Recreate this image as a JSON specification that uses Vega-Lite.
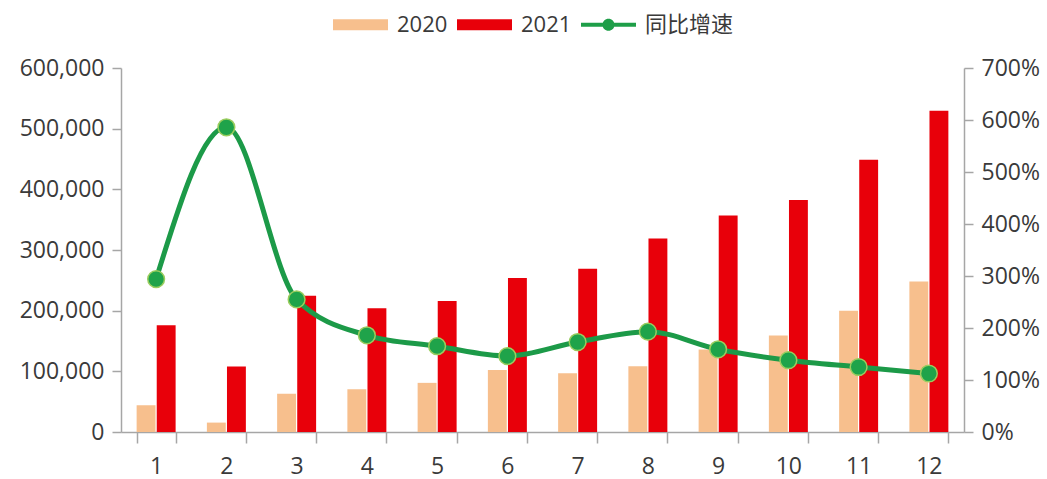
{
  "$schema": "https://vega.github.io/schema/vega-lite/v6.json",
  "width": 843,
  "height": 364,
  "autosize": {"type": "none"},
  "padding": {"left": 121, "top": 68, "right": 83, "bottom": 47},
  "background": "white",
  "config": {
    "font": "Open Sans, Noto Sans CJK SC",
    "view": {"stroke": null},
    "axis": {
      "labelFont": "Open Sans, Noto Sans CJK SC",
      "labelFontSize": 23,
      "labelColor": "#3A3A3A",
      "domainColor": "#A6A6A6",
      "tickColor": "#A6A6A6",
      "domainWidth": 1.5,
      "tickWidth": 1.5,
      "grid": false,
      "title": null
    }
  },
  "datasets": {
    "bars": [
      {"month": 1, "year": "2020", "value": 44000},
      {"month": 2, "year": "2020", "value": 15500},
      {"month": 3, "year": "2020", "value": 63000},
      {"month": 4, "year": "2020", "value": 70500},
      {"month": 5, "year": "2020", "value": 81000},
      {"month": 6, "year": "2020", "value": 102000},
      {"month": 7, "year": "2020", "value": 97000},
      {"month": 8, "year": "2020", "value": 108500},
      {"month": 9, "year": "2020", "value": 136000},
      {"month": 10, "year": "2020", "value": 159000},
      {"month": 11, "year": "2020", "value": 200000},
      {"month": 12, "year": "2020", "value": 248000},
      {"month": 1, "year": "2021", "value": 176000},
      {"month": 2, "year": "2021", "value": 108000},
      {"month": 3, "year": "2021", "value": 224500},
      {"month": 4, "year": "2021", "value": 204000},
      {"month": 5, "year": "2021", "value": 216000},
      {"month": 6, "year": "2021", "value": 254000},
      {"month": 7, "year": "2021", "value": 269000},
      {"month": 8, "year": "2021", "value": 319000},
      {"month": 9, "year": "2021", "value": 357000},
      {"month": 10, "year": "2021", "value": 382500},
      {"month": 11, "year": "2021", "value": 448600},
      {"month": 12, "year": "2021", "value": 529500}
    ],
    "growth": [
      {"month": 1, "rate": 2.94},
      {"month": 2, "rate": 5.86},
      {"month": 3, "rate": 2.55},
      {"month": 4, "rate": 1.86},
      {"month": 5, "rate": 1.65},
      {"month": 6, "rate": 1.46},
      {"month": 7, "rate": 1.73},
      {"month": 8, "rate": 1.93},
      {"month": 9, "rate": 1.59},
      {"month": 10, "rate": 1.38},
      {"month": 11, "rate": 1.25},
      {"month": 12, "rate": 1.125}
    ]
  },
  "layer": [
    {
      "data": {"name": "bars"},
      "mark": {"type": "bar"},
      "encoding": {
        "x": {
          "field": "month",
          "type": "ordinal",
          "scale": {"paddingInner": 0.445, "paddingOuter": 0.2225},
          "axis": {"labelAngle": 0, "tickBand": "extent", "tickSize": 11, "labelPadding": 12}
        },
        "xOffset": {"field": "year", "type": "nominal", "scale": {"paddingInner": 0.06}},
        "y": {
          "field": "value",
          "type": "quantitative",
          "scale": {"domain": [0, 600000], "nice": false},
          "axis": {"orient": "left", "values": [0, 100000, 200000, 300000, 400000, 500000, 600000], "format": ",.0f", "tickSize": 9, "labelPadding": 8}
        },
        "color": {
          "field": "year",
          "type": "nominal",
          "scale": {"domain": ["2020", "2021", "同比增速"], "range": ["#F7BF8D", "#E8000A", "#1E9E48"]},
          "legend": {
            "orient": "none",
            "legendX": 212,
            "legendY": -71,
            "direction": "horizontal",
            "title": null,
            "symbolSize": 3025,
            "symbolStrokeWidth": 0,
            "labelFont": "Open Sans, Noto Sans CJK SC",
            "labelFontSize": 22,
            "labelColor": "#3A3A3A",
            "labelOffset": 9,
            "columnPadding": 9,
            "encode": {
              "symbols": {
                "update": {
                  "shape": {"signal": "datum.value === '同比增速' ? 'M-1,-0.075H1V0.075H-1Z M0.22,0A0.22,0.22,0,1,1,-0.22,0A0.22,0.22,0,1,1,0.22,0Z' : 'M-1,-0.2H1V0.2H-1Z'"},
                  "fill": {"signal": "datum.value === '2020' ? '#F7BF8D' : datum.value === '2021' ? '#E8000A' : '#1E9E48'"},
                  "stroke": {"value": "transparent"},
                  "opacity": {"value": 1}
                }
              }
            }
          }
        }
      }
    },
    {
      "data": {"name": "growth"},
      "encoding": {
        "x": {"field": "month", "type": "ordinal"},
        "y": {
          "field": "rate",
          "type": "quantitative",
          "scale": {"domain": [0, 7], "nice": false},
          "axis": {"orient": "right", "values": [0, 1, 2, 3, 4, 5, 6, 7], "format": ".0%", "tickSize": 9, "labelPadding": 8}
        }
      },
      "layer": [
        {"mark": {"type": "line", "interpolate": "monotone", "stroke": "#1C9A48", "strokeWidth": 5}},
        {"mark": {"type": "point", "filled": true, "size": 280, "fill": "#1FA34A", "stroke": "#9ACD5E", "strokeWidth": 1.5, "opacity": 1}}
      ]
    }
  ],
  "resolve": {"scale": {"y": "independent"}}
}
